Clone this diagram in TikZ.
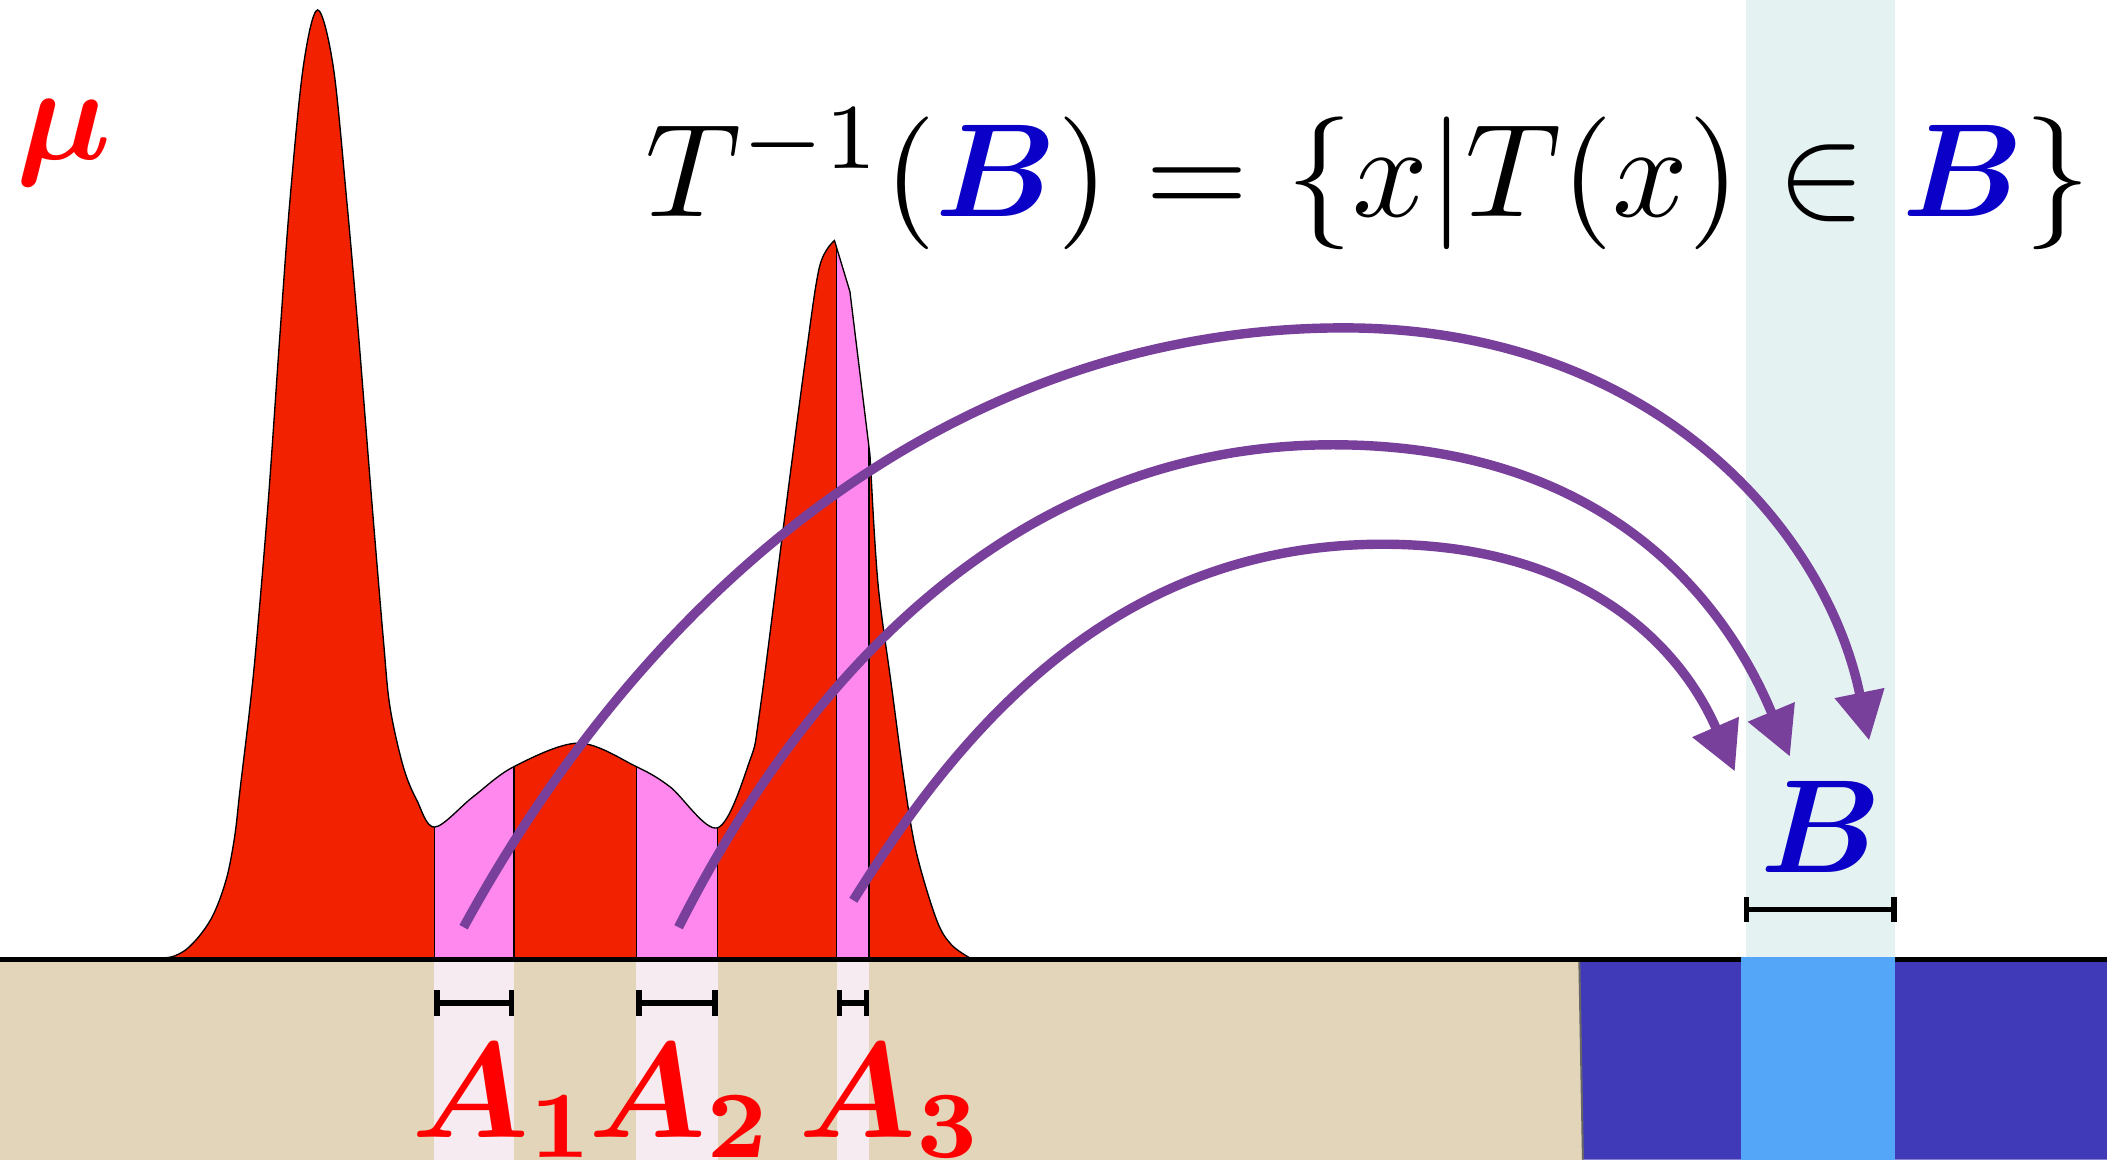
\documentclass[tikz,border=0pt]{standalone}
\usepackage{bm}
\usetikzlibrary{arrows.meta}
\definecolor{densred}{RGB}{242,34,0}
\definecolor{bandpink}{RGB}{255,136,238}
\definecolor{palepink}{RGB}{246,235,240}
\definecolor{beige}{RGB}{226,213,185}
\definecolor{deepblue}{RGB}{65,58,184}
\definecolor{skyblue}{RGB}{83,166,248}
\definecolor{paleblue}{RGB}{229,242,242}
\definecolor{arrowpurple}{RGB}{121,64,155}
\definecolor{setblue}{RGB}{10,0,200}
\definecolor{labelred}{RGB}{255,0,0}
\tikzset{
  bigmath/.style={inner sep=0pt, font=\fontsize{10}{12}\selectfont, scale=9.88},
  mumath/.style={inner sep=0pt, font=\fontsize{10}{12}\selectfont, scale=10, text=labelred},
  labmath/.style={inner sep=0pt, font=\fontsize{10}{12}\selectfont, scale=10.1, text=labelred},
  intbar/.style={line width=4pt, {Bar[width=19pt]}-{Bar[width=19pt]}},
  mapsto/.style={line width=7pt, draw=arrowpurple, -{Triangle[length=36pt,width=36pt]}},
  bandedge/.style={line width=1pt, black},
}
\def\densityoutline{(112,713) -- plot[smooth, tension=0.55] coordinates {(118,713) (128,712) (138,707) (148,697) (157,684) (164,668) (170,648) (175,620) (178.6,588) (186,526) (191,476.3) (199.7,372) (208.4,248) (215.8,148.8) (225.7,49.6) (236.4,7.4) (248,49.6) (258,148.8) (266.7,248) (276.6,372) (285.3,476) (290.2,526) (300.1,570.5) (310.1,595.3) (323.5,615.5) (352,593) (382.5,570.5) (430.6,553) (473.5,570.5) (498.6,585.5) (534,616) (558,566) (565.6,528) (585,376.6) (600,263) (610,198) (621,179)} -- (632.5,217) -- (647.4,338.6) -- plot[smooth, tension=0.55] coordinates {(648.7,362) (653.6,436.6) (663.5,511) (673.5,585.4) (682.1,635) (697,684.6) (708,703) (722,713)} -- cycle}
\begin{document}
\begin{tikzpicture}[x=1pt,y=-1pt]
\useasboundingbox (0,0) rectangle (1568,863);
\fill[white] (0,0) rectangle (1568,863);
% pale column above B
\fill[paleblue] (1299,0) rectangle (1410.1,712);
% ground
\fill[beige] (0,713) rectangle (1178,863);
\fill[deepblue] (1175.3,713) -- (1568,713) -- (1568,863) -- (1178,863) -- cycle;
\draw[line width=1.5pt, black!60] (1175.3,714) -- (1178,863);
% pale columns below the A sets
\fill[palepink] (323.3,716) rectangle (382.5,863);
\fill[palepink] (473.5,716) rectangle (534,863);
\fill[palepink] (622.6,716) rectangle (646.7,863);
% density
\fill[densred] \densityoutline;
\begin{scope}
  \clip \densityoutline;
  \fill[bandpink] (323.3,0) rectangle (382.5,713);
  \fill[bandpink] (473.5,0) rectangle (534,713);
  \fill[bandpink] (622.6,0) rectangle (646.7,713);
  \foreach \xx in {323.3,382.5,473.5,534,622.6,646.7}
    \draw[bandedge] (\xx,0) -- (\xx,713);
\end{scope}
\draw[line width=1pt, black] \densityoutline;
% baseline
\draw[line width=4.2pt, black] (0,714) -- (1568,714);
% light blue column below B
\fill[skyblue] (1295.6,712) rectangle (1410.1,863);
% interval bars
\coordinate (a1l) at (323.3,746.5); \coordinate (a1r) at (382.5,746.5);
\coordinate (a2l) at (473.5,746.5); \coordinate (a2r) at (534,746.5);
\coordinate (a3l) at (622.6,746.5); \coordinate (a3r) at (646.7,746.5);
\coordinate (bl) at (1297.8,676.7); \coordinate (br) at (1411.5,676.7);
\draw[intbar] (a1l) -- (a1r);
\draw[intbar] (a2l) -- (a2r);
\draw[intbar] (a3l) -- (a3r);
\draw[intbar] (bl) -- (br);
% labels
\node[bigmath, anchor=base west] (formula) at (478.6,161.2)
  {$T^{-1}({\color{setblue}\bm{B}}) = \{x|T(x)\in {\color{setblue}\bm{B}}\}$};
\node[mumath, anchor=base west] (mu) at (10,119) {$\bm{\mu}$};
\node[bigmath, anchor=base, text=setblue] (lb) at (1355.4,649.4) {$\bm{B}$};
\node[labmath, anchor=base west] (la1) at (304,846.3) {$\bm{A_1}$};
\node[labmath, anchor=base west] (la2) at (436,846.3) {$\bm{A_2}$};
\node[labmath, anchor=base west] (la3) at (592,846.3) {$\bm{A_3}$};
% arrows
\coordinate (s1) at (345,690); \coordinate (t1) at (1391,551);
\coordinate (s2) at (505,690); \coordinate (t2) at (1332,563);
\coordinate (s3) at (635,670); \coordinate (t3) at (1291,574);
\coordinate (p1) at (1000,244);
\coordinate (p2) at (992,331);
\coordinate (p3) at (1029,405);
\draw[mapsto] (s1) .. controls (489,426) and (720,244) .. (p1) .. controls (1230,244) and (1359,394) .. (t1);
\draw[mapsto] (s2) .. controls (604,494) and (762,331) .. (p2) .. controls (1192,331) and (1282,443) .. (t2);
\draw[mapsto] (s3) .. controls (714.5,542.5) and (829,405) .. (p3) .. controls (1180,405) and (1251,482) .. (t3);
\end{tikzpicture}
\end{document}
